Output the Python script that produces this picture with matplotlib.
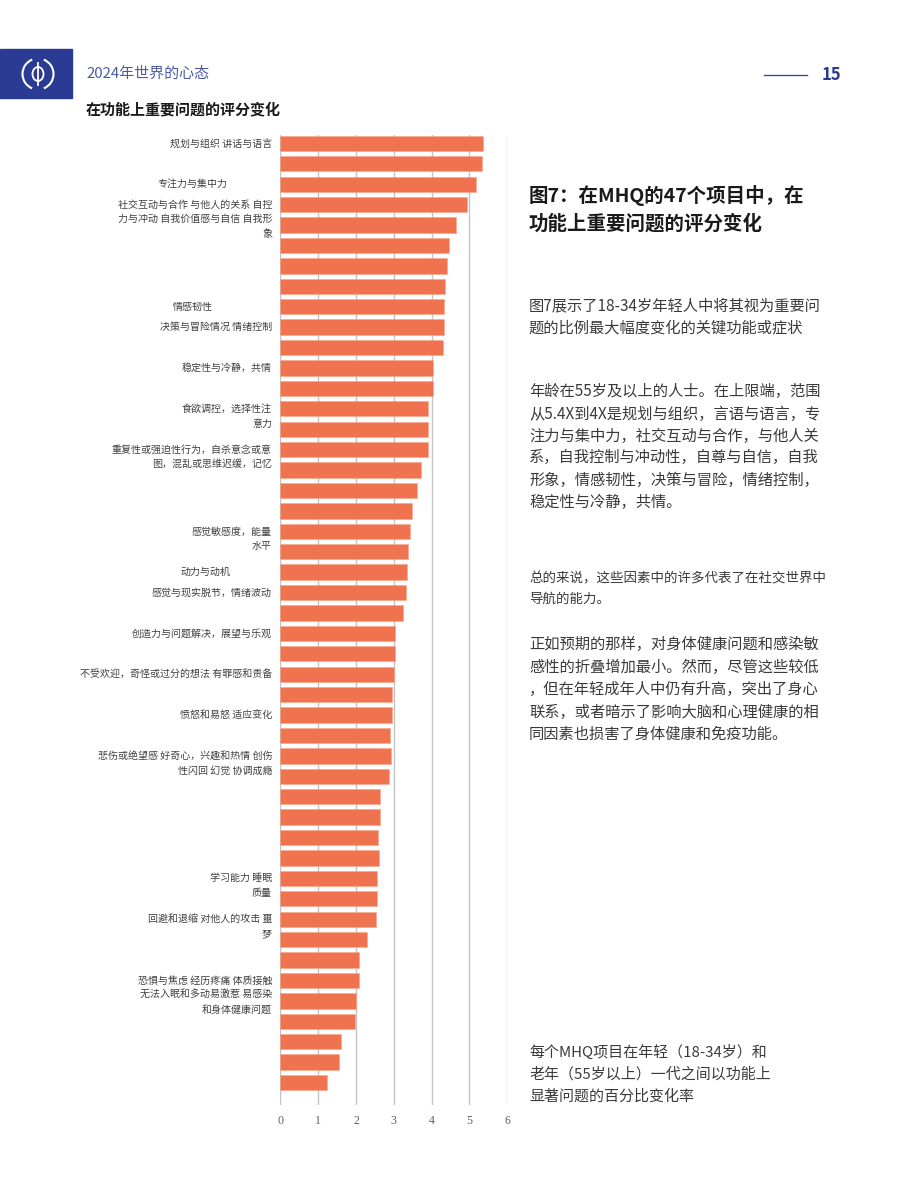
import matplotlib
matplotlib.use("Agg")
import matplotlib.pyplot as plt
from matplotlib.patches import Rectangle, Arc, Ellipse
from matplotlib.transforms import blended_transform_factory

plt.rcParams['font.family'] = ['Noto Sans CJK SC', 'DejaVu Sans']

# ---------------- data ----------------
values = [5.37, 5.32, 5.17, 4.93, 4.65, 4.47, 4.41, 4.35, 4.34, 4.34,
          4.31, 4.03, 4.03, 3.90, 3.90, 3.90, 3.73, 3.62, 3.48, 3.44,
          3.38, 3.36, 3.31, 3.23, 3.04, 3.04, 3.00, 2.96, 2.95, 2.91,
          2.92, 2.86, 2.64, 2.63, 2.59, 2.60, 2.56, 2.55, 2.53, 2.29,
          2.08, 2.07, 2.01, 1.97, 1.60, 1.55, 1.23]

label_texts = [
    "规划与组织 讲话与语言",
    "专注力与集中力",
    "社交互动与合作 与他人的关系 自控\n力与冲动 自我价值感与自信 自我形\n象",
    "情感韧性",
    "决策与冒险情况 情绪控制",
    "稳定性与冷静，共情",
    "食欲调控，选择性注\n意力",
    "重复性或强迫性行为，自杀意念或意\n图，混乱或思维迟缓，记忆",
    "感觉敏感度，能量\n水平",
    "动力与动机",
    "感觉与现实脱节，情绪波动",
    "创造力与问题解决，展望与乐观",
    "不受欢迎，奇怪或过分的想法 有罪感和责备",
    "愤怒和易怒 适应变化",
    "悲伤或绝望感 好奇心，兴趣和热情 创伤\n性闪回 幻觉 协调成瘾",
    "学习能力 睡眠\n质量",
    "回避和退缩 对他人的攻击 噩\n梦",
    "恐惧与焦虑 经历疼痛 体质接触\n无法入眠和多动易激惹 易感染\n和身体健康问题",
]
label_bars = [0, 2, 3, 8, 9, 11, 13, 15, 19, 21, 22, 24, 26, 28, 30, 36, 38, 41]

x_ticks = [0, 1, 2, 3, 4, 5, 6]

header_title = "2024年世界的心态"
page_number = "15"
chart_title = "在功能上重要问题的评分变化"
side_heading = ["图7：在MHQ的47个项目中，在", "功能上重要问题的评分变化"]
para1 = ["图7展示了18-34岁年轻人中将其视为重要问", "题的比例最大幅度变化的关键功能或症状"]
para2 = ["年龄在55岁及以上的人士。在上限端，范围",
         "从5.4X到4X是规划与组织，言语与语言，专",
         "注力与集中力，社交互动与合作，与他人关",
         "系，自我控制与冲动性，自尊与自信，自我",
         "形象，情感韧性，决策与冒险，情绪控制，",
         "稳定性与冷静，共情。"]
para3 = ["总的来说，这些因素中的许多代表了在社交世界中", "导航的能力。"]
para4 = ["正如预期的那样，对身体健康问题和感染敏",
         "感性的折叠增加最小。然而，尽管这些较低",
         "，但在年轻成年人中仍有升高，突出了身心",
         "联系，或者暗示了影响大脑和心理健康的相",
         "同因素也损害了身体健康和免疫功能。"]
caption = ["每个MHQ项目在年轻（18-34岁）和", "老年（55岁以上）一代之间以功能上", "显著问题的百分比变化率"]

# ---------------- figure ----------------
W, H = 920, 1191
fig = plt.figure(figsize=(W / 100, H / 100), dpi=100)
fig.patch.set_facecolor("white")

def fx(px):
    return px / W

def fy(py):
    return 1 - py / H

ax_left, ax_right, ax_top, ax_bot = 280.3, 507.3, 135, 1105
ax = fig.add_axes([fx(ax_left), fy(ax_bot), fx(ax_right - ax_left), (ax_bot - ax_top) / H])

n = len(values)
idx = list(range(n))
ax.barh(idx, values, height=0.75, color="#F07350", edgecolor="#F7A58C", linewidth=0.4, zorder=3)
ax.set_xlim(0, 6)
ax.set_ylim(n - 1 + 1.1, -0.41)
ax.set_xticks(x_ticks)
ax.set_xticklabels([str(t) for t in x_ticks], family="Liberation Serif", fontsize=8.5, color="#606060")
ax.set_yticks([])
ax.grid(axis="x", color="#c4c4c4", linewidth=1.0, zorder=0)
ax.set_axisbelow(True)
for s in ax.spines.values():
    s.set_visible(False)
ax.tick_params(axis="x", length=0, pad=7)

# left scattered labels
ytrans = blended_transform_factory(fig.transFigure, ax.transData)
right_edge_px = {1: 227, 3: 213, 9: 231}
line_step = 0.72
for k, (txt, b) in enumerate(zip(label_texts, label_bars)):
    xr = right_edge_px.get(k, 272)
    for j, line in enumerate(txt.split("\n")):
        ax.text(fx(xr), b + j * line_step, line, transform=ytrans, ha="right", va="center",
                fontsize=7.2, color="#404040", clip_on=False)

# ---------------- overlay (pixel coords) ----------------
ov = fig.add_axes([0, 0, 1, 1], facecolor="none")
ov.set_xlim(0, W)
ov.set_ylim(H, 0)
ov.axis("off")

ov.add_patch(Rectangle((0, 49), 72, 49, color="#2B3B93", zorder=1))
cx, cy, r = 38, 74, 31
ov.add_patch(Arc((cx, cy), r, r, theta1=112, theta2=248, color="white", lw=1.5, zorder=2))
ov.add_patch(Arc((cx, cy), r, r, theta1=-68, theta2=68, color="white", lw=1.5, zorder=2))
ov.add_patch(Ellipse((cx, cy), 11, 14, fill=False, edgecolor="white", lw=1.3, zorder=2))
ov.plot([cx, cx], [63, 85], color="white", lw=1.3, zorder=2)

ov.text(86, 74, header_title, fontsize=10.8, color="#4A5BA8", ha="left", va="center", fontweight="light")
ov.plot([764, 807], [75, 75], color="#3B4A9E", lw=1.0)
ov.text(822, 74.5, page_number, fontsize=12, color="#2B3990", ha="left", va="center", fontweight="bold")
ov.text(86, 109, chart_title, fontsize=10.8, color="#1a1a1a", ha="left", va="center", fontweight="bold")

# right text
for line, y in zip(side_heading, [196, 224]):
    ov.text(529, y, line, fontsize=14, fontweight="bold", color="#1a1a1a", ha="left", va="center")
for line, y in zip(para1, [306, 328]):
    ov.text(529, y, line, fontsize=11, color="#3a3a3a", ha="left", va="center")
for line, y in zip(para2, [391.7, 414.3, 436.7, 457.7, 480, 502.7]):
    ov.text(529, y, line, fontsize=11, color="#3a3a3a", ha="left", va="center")
for line, y in zip(para3, [578, 599]):
    ov.text(529, y, line, fontsize=9.7, color="#3a3a3a", ha="left", va="center")
for line, y in zip(para4, [644, 667, 689, 712, 734]):
    ov.text(529, y, line, fontsize=11, color="#3a3a3a", ha="left", va="center")
for line, y in zip(caption, [1052, 1074, 1096]):
    ov.text(529, y, line, fontsize=10.8, color="#3a3a3a", ha="left", va="center")

fig.savefig("out.png", dpi=100, facecolor="white")
